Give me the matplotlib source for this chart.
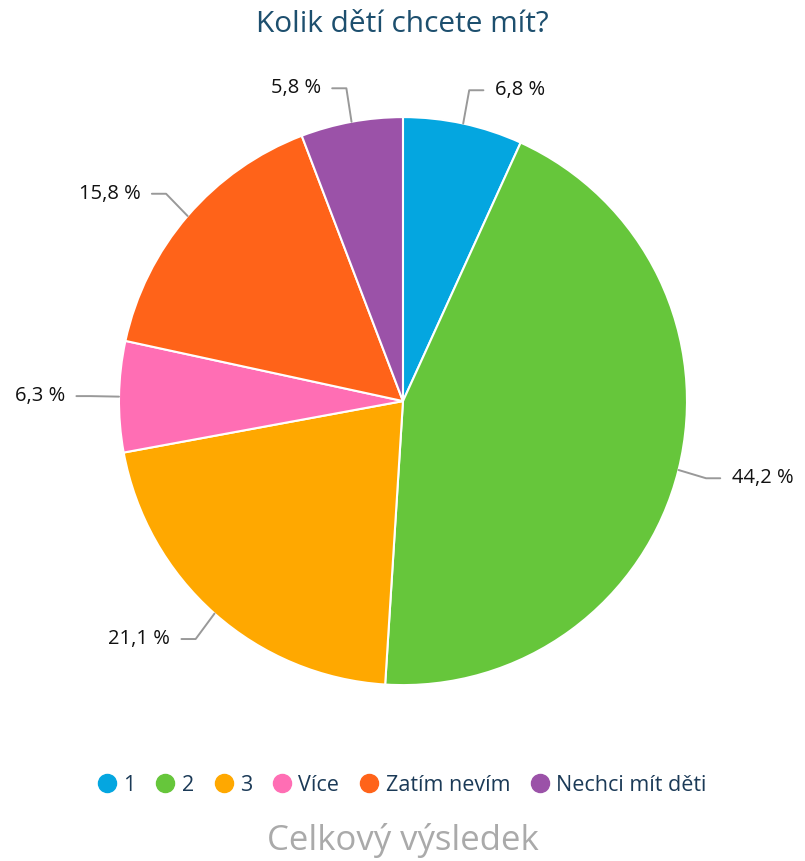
import numpy as np
import matplotlib
matplotlib.use('Agg')
import matplotlib.pyplot as plt
from matplotlib.lines import Line2D

plt.rcParams['font.family'] = ['Open Sans', 'DejaVu Sans']

# data
categories = ['1', '2', '3', 'Více', 'Zatím nevím', 'Nechci mít děti']
values = [6.8, 44.2, 21.1, 6.3, 15.8, 5.8]
labels = ['6,8 %', '44,2 %', '21,1 %', '6,3 %', '15,8 %', '5,8 %']
colors = ['#04a6e0', '#66c63b', '#ffa800', '#ff6eb4', '#ff6319', '#9b52a8']

title = 'Kolik dětí chcete mít?'
subtitle = 'Celkový výsledek'

fig = plt.figure(figsize=(8.05, 8.61), dpi=100)
ax = fig.add_axes([0.1478, 0.2043, 0.7056, 0.6597])

wedges, _ = ax.pie(values, colors=colors, startangle=90, counterclock=False,
                   radius=1, wedgeprops=dict(edgecolor='white', linewidth=1.5))
ax.set_xlim(-1, 1)
ax.set_ylim(-1, 1)
ax.set_aspect('equal')
ax.axis('off')

# labels with connectors
cum = np.cumsum([0] + values[:-1])
for v, c, lab in zip(values, cum, labels):
    mid = np.deg2rad((c + v / 2) / 100 * 360)
    sx, cy = np.sin(mid), np.cos(mid)
    side = 1 if sx >= 0 else -1
    ex, ey = sx * 1.0, cy * 1.0
    bx, by = sx * 1.1, cy * 1.12
    lx = bx + side * 0.05
    ax.plot([ex, bx, lx], [ey, by, by], color='#999999', lw=1.4,
            clip_on=False, solid_capstyle='round')
    ax.text(lx + side * 0.04, by, lab, ha='left' if side > 0 else 'right',
            va='center', fontsize=14.5, color='#111111')

fig.text(0.5, 0.972, title, ha='center', va='center', fontsize=21.5, color='#1d4f6e')

handles = [Line2D([0], [0], marker='o', linestyle='', markersize=13,
                  markerfacecolor=col, markeredgecolor=col) for col in colors]
fig.legend(handles, categories, loc='center', bbox_to_anchor=(0.5, 0.088), ncol=6,
           frameon=False, fontsize=15.5, handlelength=0.8, handletextpad=0.35,
           columnspacing=1.0, labelcolor='#1b3a57')

fig.text(0.5, 0.024, subtitle, ha='center', va='center', fontsize=25, color='#aaaaaa')

fig.savefig('out.png', dpi=100, facecolor='white')
